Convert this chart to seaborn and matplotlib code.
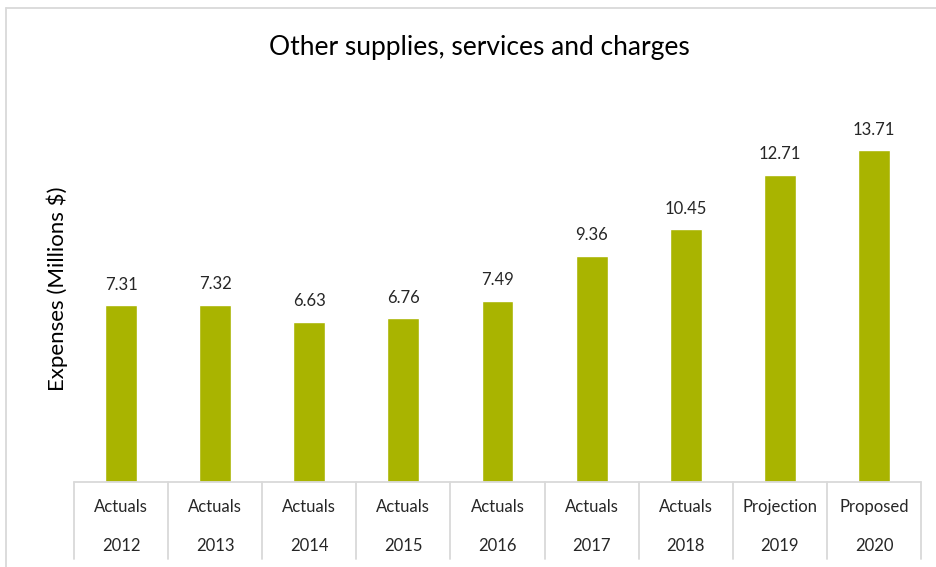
import matplotlib
matplotlib.use("Agg")
import matplotlib.pyplot as plt
from matplotlib.lines import Line2D
import seaborn as sns
import pandas as pd

# Chart data
statuses = ["Actuals", "Actuals", "Actuals", "Actuals", "Actuals",
            "Actuals", "Actuals", "Projection", "Proposed"]
years = ["2012", "2013", "2014", "2015", "2016", "2017", "2018", "2019", "2020"]
expenses = [7.31, 7.32, 6.63, 6.76, 7.49, 9.36, 10.45, 12.71, 13.71]

title = "Other supplies, services and charges"
y_label = "Expenses (Millions $)"

bar_color = "#A9B400"
grid_color = "#D9D9D9"
text_color = "#262626"

sns.set_theme(style="white")
plt.rcParams["font.family"] = ["Lato", "DejaVu Sans"]

df = pd.DataFrame({"key": [f"{s}\n{y}" for s, y in zip(statuses, years)],
                   "value": expenses})

W, H = 936, 567
fig = plt.figure(figsize=(W / 100, H / 100), dpi=100)
fig.patch.set_facecolor("white")

# plot area in pixel coordinates
left_px, right_px, base_px, top_px = 74, 921, 482, 95
ax = fig.add_axes([left_px / W, (H - base_px) / H,
                   (right_px - left_px) / W, (base_px - top_px) / H])

sns.barplot(data=df, x="key", y="value", color=bar_color, width=0.34,
            saturation=1, ax=ax)

ax.set_xlim(-0.5, len(years) - 0.5)
ax.set_ylim(0, 16)
for s in ax.spines.values():
    s.set_visible(False)
ax.set_xticks([])
ax.set_yticks([])
ax.set_xlabel("")
ax.set_ylabel(y_label, fontsize=16, color="black", labelpad=4)

# value labels above bars
for i, v in enumerate(expenses):
    ax.annotate(f"{v:.2f}", (i, v), xytext=(0, 9), textcoords="offset points",
                ha="center", va="bottom", fontsize=12, color=text_color)

# two-level category table below the axis
trans = ax.get_xaxis_transform()
def fy(px):
    # figure pixel row -> axes y fraction
    return (base_px - px) / (base_px - top_px)

ax.add_line(Line2D([-0.5, len(years) - 0.5], [0, 0], transform=trans,
                   color=grid_color, lw=1.3, clip_on=False))
for b in range(len(years) + 1):
    ax.add_line(Line2D([b - 0.5, b - 0.5], [0, fy(559)], transform=trans,
                       color=grid_color, lw=1.3, clip_on=False))
for i, (s, y) in enumerate(zip(statuses, years)):
    ax.text(i, fy(507), s, transform=trans, ha="center", va="center",
            fontsize=12, color=text_color, clip_on=False)
    ax.text(i, fy(546), y, transform=trans, ha="center", va="center",
            fontsize=12, color=text_color, clip_on=False)

# title
fig.text(479 / W, 1 - 48 / H, title, ha="center", va="center",
         fontsize=19, color="black")

# chart border
fig.add_artist(Line2D([6 / W, 6 / W], [0, 1 - 8 / H], transform=fig.transFigure,
                      color=grid_color, lw=1.3))
fig.add_artist(Line2D([6 / W, 1], [1 - 8 / H, 1 - 8 / H], transform=fig.transFigure,
                      color=grid_color, lw=1.3))

fig.savefig("out.png", dpi=100, facecolor="white")
